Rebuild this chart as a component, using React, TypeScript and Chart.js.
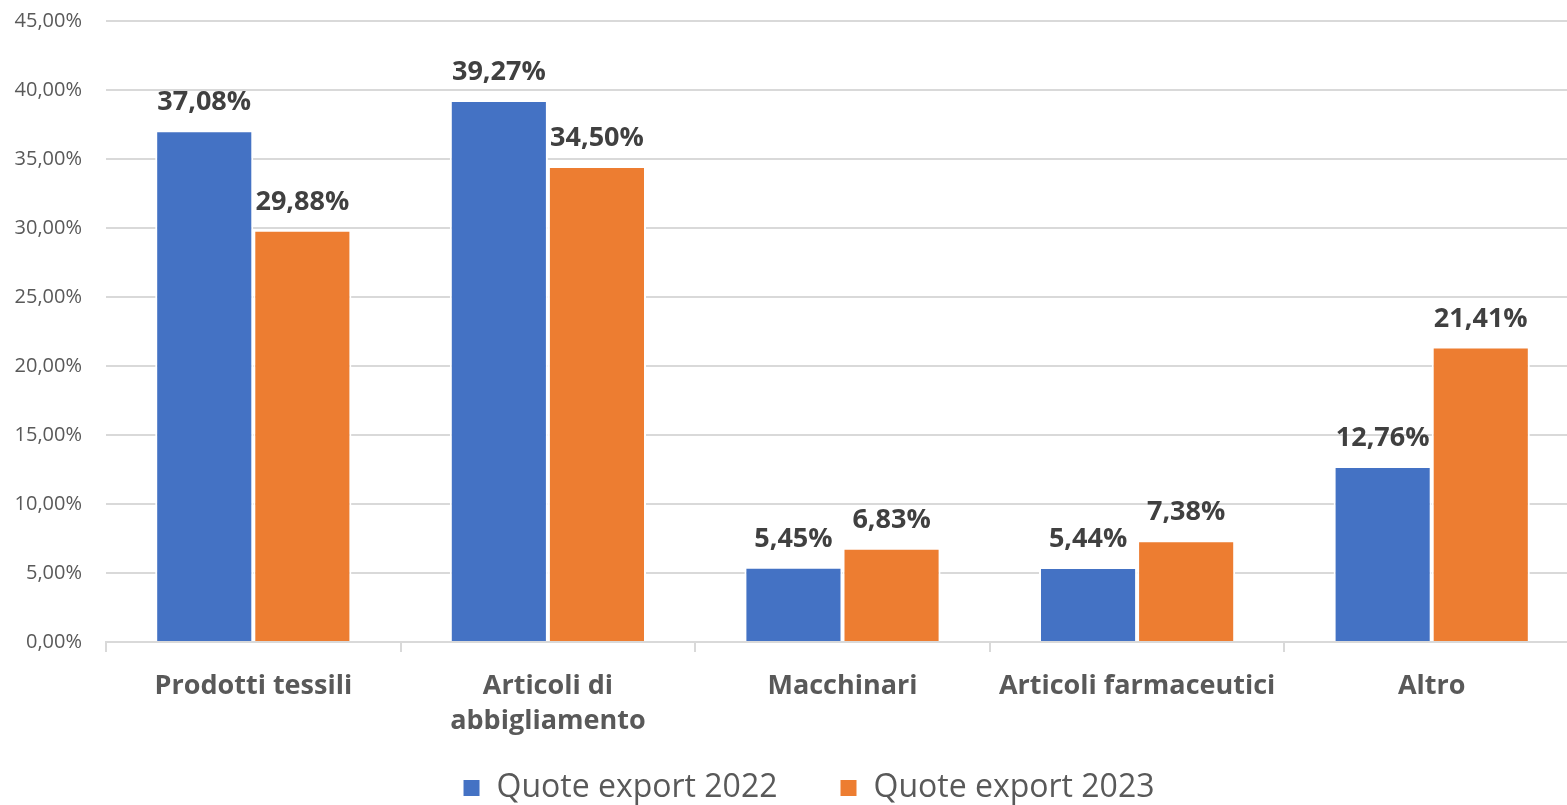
import React, { useEffect, useRef } from "react";
import { Chart, registerables } from "chart.js";

Chart.register(...registerables);

const categories: (string | string[])[] = [
  "Prodotti tessili",
  ["Articoli di", "abbigliamento"],
  "Macchinari",
  "Articoli farmaceutici",
  "Altro",
];
const series2022Label = "Quote export 2022";
const series2023Label = "Quote export 2023";
const values2022 = [37.08, 39.27, 5.45, 5.44, 12.76];
const values2023 = [29.88, 34.5, 6.83, 7.38, 21.41];
const yMin = 0;
const yMax = 45;
const yStep = 5;

const FONT = "'Open Sans', 'Noto Sans', sans-serif";
const fmt = (v: number) => v.toFixed(2).replace(".", ",") + "%";

const dataLabelPlugin = {
  id: "dataLabels",
  afterLayout(chart: any) {
    // nudge the legend row to the right, as in the reference
    const lg = chart.legend;
    if (lg) {
      lg.left += 19;
      lg.right += 19;
    }
  },
  beforeDraw(chart: any) {
    // let the multi-line category labels extend below the x axis box
    const xs = chart.scales.x;
    if (xs) xs._computeLabelArea = () => undefined;
  },
  afterDatasetsDraw(chart: any) {
    const ctx = chart.ctx;
    ctx.save();
    ctx.font = `bold 27px ${FONT}`;
    ctx.fillStyle = "#404040";
    ctx.textAlign = "center";
    ctx.textBaseline = "alphabetic";
    chart.data.datasets.forEach((ds: any, di: number) => {
      const meta = chart.getDatasetMeta(di);
      meta.data.forEach((bar: any, i: number) => {
        ctx.fillText(fmt(ds.data[i]), bar.x, bar.y - 20);
      });
    });
    ctx.restore();
  },
};

export default function App() {
  const canvasRef = useRef<HTMLCanvasElement | null>(null);

  useEffect(() => {
    if (!canvasRef.current) return;
    const chart = new Chart(canvasRef.current, {
      type: "bar",
      data: {
        labels: categories,
        datasets: [
          {
            label: series2022Label,
            data: values2022,
            backgroundColor: "#4472C4",
            borderColor: "#ffffff",
            borderWidth: 2,
            categoryPercentage: 0.666,
            barPercentage: 1,
          },
          {
            label: series2023Label,
            data: values2023,
            backgroundColor: "#ED7D31",
            borderColor: "#ffffff",
            borderWidth: 2,
            categoryPercentage: 0.666,
            barPercentage: 1,
          },
        ],
      },
      options: {
        animation: false,
        responsive: true,
        maintainAspectRatio: false,
        layout: { padding: { top: 21, left: 0, right: 0, bottom: 0 } },
        plugins: {
          legend: {
            position: "bottom",
            labels: {
              boxWidth: 18,
              boxHeight: 18,
              padding: 62,
              color: "#595959",
              font: { family: FONT, size: 32 },
            },
          },
          tooltip: { enabled: false },
        },
        scales: {
          x: {
            afterFit: (scale: any) => {
              scale.height = 68;
            },
            grid: {
              offset: true,
              drawOnChartArea: false,
              drawTicks: true,
              tickLength: 10,
              color: "#d9d9d9",
              lineWidth: 2,
            },
            border: { display: true, color: "#d9d9d9", width: 2 },
            ticks: {
              color: "#595959",
              font: { family: FONT, size: 27, weight: "bold", lineHeight: 1.3 },
              padding: 17,
              maxRotation: 0,
              autoSkip: false,
            },
          },
          y: {
            min: yMin,
            max: yMax,
            afterFit: (scale: any) => {
              scale.width = 106;
              scale.paddingTop = 0;
              scale.paddingBottom = 0;
            },
            grid: {
              drawTicks: false,
              color: "#d9d9d9",
              lineWidth: 2,
            },
            border: { display: false },
            ticks: {
              stepSize: yStep,
              padding: 24,
              color: "#595959",
              font: { family: FONT, size: 20 },
              callback: (v: any) => fmt(Number(v)),
            },
          },
        },
      },
      plugins: [dataLabelPlugin],
    });
    return () => chart.destroy();
  }, []);

  return (
    <div
      style={{
        position: "fixed",
        left: 0,
        top: 0,
        width: 1567,
        height: 805,
        overflow: "hidden",
        background: "#ffffff",
      }}
    >
      <div style={{ position: "relative", width: 1579, height: 814 }}>
        <canvas ref={canvasRef} />
      </div>
    </div>
  );
}
